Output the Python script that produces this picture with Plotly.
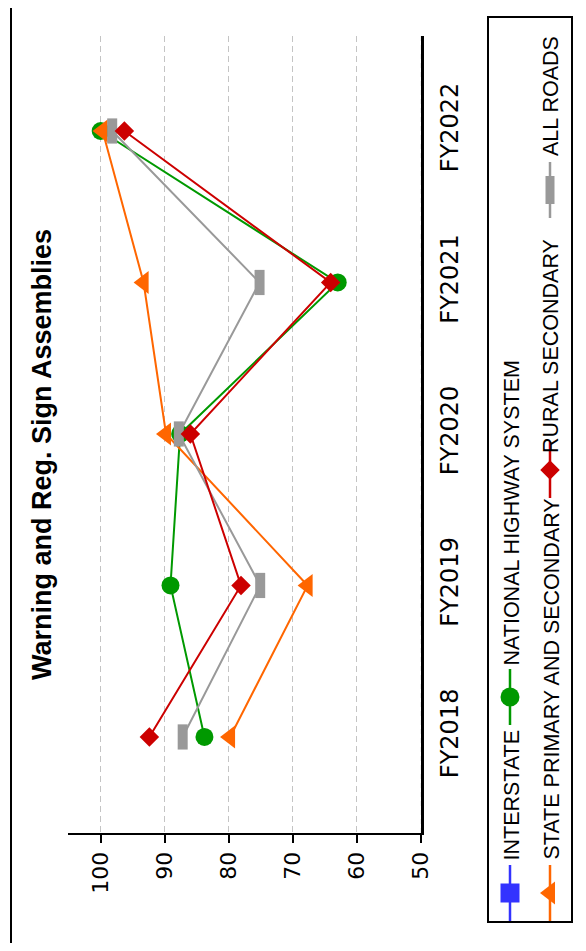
import plotly.graph_objects as go

# ---------------- data ----------------
categories = ["FY2018", "FY2019", "FY2020", "FY2021", "FY2022"]
interstate = [None, None, None, None, None]
nhs = [83.8, 89.1, 87.6, 63.0, 100.0]
state_ps = [79.8, 67.7, 89.8, 93.3, 99.7]
rural_sec = [92.4, 78.1, 86.0, 64.1, 96.3]
all_roads = [87.2, 75.1, 87.8, 75.2, 98.2]
value_ticks = [50, 60, 70, 80, 90, 100]
series_names = ["INTERSTATE", "NATIONAL HIGHWAY SYSTEM",
                "STATE PRIMARY AND SECONDARY", "RURAL SECONDARY", "ALL ROADS"]
title_text = "Warning and Reg. Sign Assemblies"

# ---------------- geometry / styles ----------------
BLUE, GREEN, ORANGE, RED, GRAY = "#3333ff", "#009900", "#ff6600", "#cc0000", "#999999"
OFF = 8                                # default page margin of the html body
W, H = 586 - 2 * OFF, 951 - 2 * OFF    # figure size (no page overflow)
PX0, PX1 = 68, 421                     # plot area in page pixels (x)
PY0, PY1 = 36, 833                     # plot area in page pixels (y)


def fx(x):  # page px -> paper x
    return (x - OFF) / W


def fy(y):  # page px -> paper y
    return 1 - (y - OFF) / H


fig = go.Figure()

# data traces (value axis horizontal, reversed; categories vertical)
fig.add_trace(go.Scatter(x=interstate, y=categories, mode="lines+markers",
                         line=dict(color=BLUE, width=2),
                         marker=dict(symbol="square", size=19, color=BLUE)))
fig.add_trace(go.Scatter(x=nhs, y=categories, mode="lines+markers",
                         line=dict(color=GREEN, width=2),
                         marker=dict(symbol="circle", size=18, color=GREEN)))
fig.add_trace(go.Scatter(x=state_ps, y=categories, mode="lines+markers",
                         line=dict(color=ORANGE, width=2),
                         marker=dict(symbol="triangle-left", size=20, color=ORANGE)))
fig.add_trace(go.Scatter(x=all_roads, y=categories, mode="lines+markers",
                         line=dict(color=GRAY, width=2),
                         marker=dict(symbol="line-ns", size=18,
                                     line=dict(color=GRAY, width=10))))
fig.add_trace(go.Scatter(x=rural_sec, y=categories, mode="lines+markers",
                         line=dict(color=RED, width=2),
                         marker=dict(symbol="diamond", size=15, color=RED)))

# ---------------- manual (rotated) legend on a full-page pixel subplot ----------------
col1, col2 = 510, 550
legend_items = [
    # name, colour, symbol, size, marker centre (page px), text bottom (page px), column
    (series_names[0], BLUE, "square", 19, 893, 863, col1),
    (series_names[1], GREEN, "circle", 19, 697, 668, col1),
    (series_names[2], ORANGE, "triangle-left", 20, 893, 862, col2),
    (series_names[3], RED, "diamond", 15, 470, 455, col2),
    (series_names[4], GRAY, "line-ns", 20, 190, 158, col2),
]
for name, col, sym, sz, my, ty, cx in legend_items:
    fig.add_trace(go.Scatter(x=[cx - OFF], y=[my - OFF], xaxis="x2", yaxis="y2",
                             mode="markers", hoverinfo="skip",
                             marker=dict(symbol="line-ns", size=40,
                                         line=dict(color=col, width=2.5))))
    if sym == "line-ns":
        mk = dict(symbol=sym, size=sz, line=dict(color=col, width=9))
    else:
        mk = dict(symbol=sym, size=sz, color=col, line=dict(width=0))
    fig.add_trace(go.Scatter(x=[cx - OFF], y=[my - OFF], xaxis="x2", yaxis="y2",
                             mode="markers", hoverinfo="skip", marker=mk))
    fig.add_annotation(text=name, x=fx(cx + 1), y=fy(ty), xref="paper", yref="paper",
                       textangle=-90, xanchor="center", yanchor="bottom",
                       showarrow=False,
                       font=dict(family="Liberation Sans", size=21.5, color="black"))

# title
fig.add_annotation(text="<b>" + title_text + "</b>", x=fx(42), y=fy(455),
                   xref="paper", yref="paper", textangle=-90,
                   xanchor="center", yanchor="middle", showarrow=False,
                   font=dict(family="Liberation Sans", size=27, color="black"))

shapes = [
    # outer frame (partially outside the page)
    dict(type="line", xref="paper", yref="paper", x0=fx(11), x1=fx(11), y0=fy(-10), y1=fy(944),
         line=dict(color="black", width=2)),
    dict(type="line", xref="paper", yref="paper", x0=fx(11), x1=fx(600), y0=fy(944), y1=fy(944),
         line=dict(color="black", width=2)),
    # legend box
    dict(type="rect", xref="paper", yref="paper", x0=fx(488), x1=fx(572), y0=fy(17), y1=fy(922),
         line=dict(color="black", width=2), fillcolor="rgba(0,0,0,0)"),
    # dashed light stripe inside the category axis line
    dict(type="line", xref="x", yref="paper", x0=50, x1=50, y0=fy(PY1), y1=fy(PY0),
         line=dict(color="#e0e0e0", width=1, dash="5px,4px"), layer="above"),
]

fig.update_layout(
    template="none",
    width=W, height=H, autosize=False,
    margin=dict(l=0, r=0, t=0, b=0, pad=0, autoexpand=False),
    paper_bgcolor="white", plot_bgcolor="rgba(0,0,0,0)",
    font=dict(family="DejaVu Sans", color="black"),
    showlegend=False,
    shapes=shapes,
    xaxis=dict(domain=[fx(PX0), fx(PX1)], anchor="y", automargin=False,
               range=[105.1, 50], tickvals=value_ticks, tickangle=-90,
               tickfont=dict(size=22, family="DejaVu Sans"),
               ticks="outside", ticklen=8, tickwidth=2, tickcolor="black",
               showline=True, linecolor="black", linewidth=2,
               showgrid=True, gridcolor="#c4c4c4", gridwidth=1, griddash="6px,4px",
               zeroline=False),
    yaxis=dict(domain=[fy(PY1), fy(PY0)], anchor="x", automargin=False,
               type="category", categoryorder="array", categoryarray=categories,
               range=[-0.634, 4.627], side="right", tickangle=-90,
               tickfont=dict(size=24, family="DejaVu Sans"),
               ticks="outside", ticklen=5, tickcolor="rgba(0,0,0,0)",
               showline=True, linecolor="black", linewidth=3,
               showgrid=False, zeroline=False),
    xaxis2=dict(domain=[0, 1], anchor="y2", range=[0, W], visible=False, automargin=False),
    yaxis2=dict(domain=[0, 1], anchor="x2", range=[H, 0], visible=False, automargin=False),
)

fig.write_html("out.html")
